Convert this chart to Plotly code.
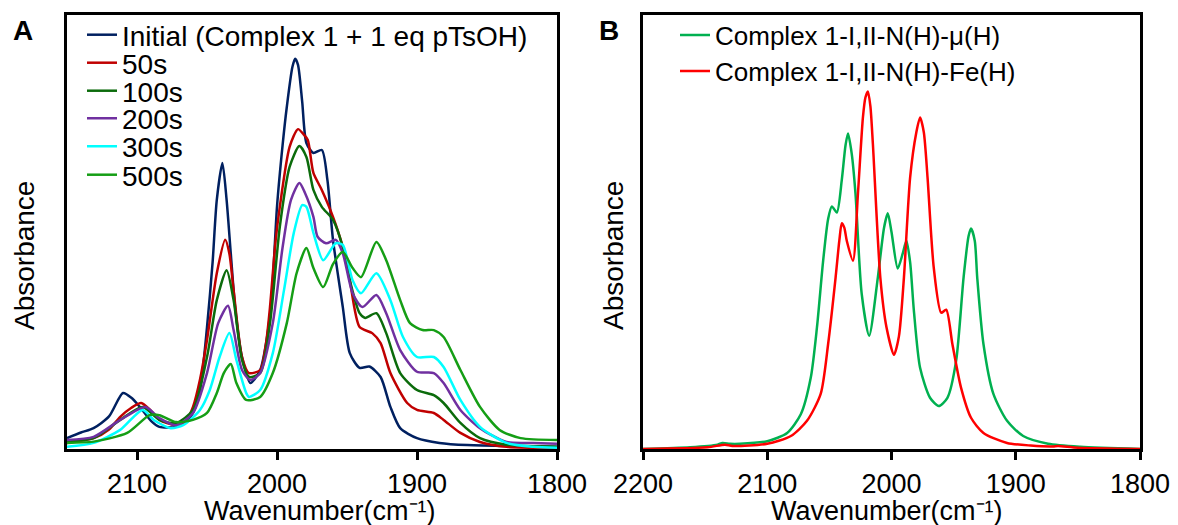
import plotly.graph_objects as go

W, H = 1178, 525

# ---------------- Panel A data (wavenumber, absorbance in arbitrary units) ----------------
wn_initial = [2150, 2140, 2131, 2120, 2110, 2104, 2098, 2090, 2084, 2072, 2065, 2060, 2055, 2050, 2046,
              2043, 2039, 2036, 2033, 2030, 2025, 2019, 2012, 2008, 2004, 2000, 1996, 1993, 1989, 1987,
              1985, 1982, 1979, 1974, 1968, 1964, 1960, 1953, 1948, 1941, 1934, 1926, 1919, 1912, 1900,
              1884, 1864, 1800]
abs_initial = [0.025, 0.038, 0.048, 0.075, 0.129, 0.118, 0.097, 0.065, 0.051, 0.051, 0.062, 0.083, 0.136,
               0.28, 0.43, 0.574, 0.659, 0.574, 0.45, 0.33, 0.212, 0.152, 0.182, 0.24, 0.34, 0.558, 0.70,
               0.788, 0.88, 0.899, 0.885, 0.80, 0.705, 0.682, 0.689, 0.62, 0.482, 0.327, 0.221, 0.187,
               0.19, 0.166, 0.097, 0.048, 0.025, 0.014, 0.009, 0.005]

wn_50s = [2150, 2131, 2120, 2112, 2104, 2097, 2090, 2084, 2072, 2065, 2060, 2055, 2050, 2043, 2037, 2034,
          2031, 2025, 2020, 2012, 2008, 2005, 2001, 1998, 1991, 1985, 1981, 1978, 1974, 1968, 1960, 1953,
          1948, 1941, 1932, 1926, 1919, 1907, 1900, 1888, 1881, 1869, 1855, 1836, 1800]
abs_50s = [0.014, 0.025, 0.045, 0.074, 0.095, 0.106, 0.088, 0.067, 0.055, 0.065, 0.097, 0.16, 0.251, 0.405,
           0.482, 0.45, 0.366, 0.212, 0.175, 0.182, 0.24, 0.327, 0.48, 0.558, 0.696, 0.737, 0.725, 0.712,
           0.636, 0.597, 0.535, 0.465, 0.389, 0.281, 0.267, 0.244, 0.175, 0.106, 0.09, 0.083, 0.067, 0.037,
           0.016, 0.005, 0.003]

wn_100s = [2150, 2131, 2112, 2096, 2084, 2072, 2060, 2050, 2043, 2036, 2031, 2025, 2020, 2012, 2005, 1998,
           1991, 1984, 1979, 1974, 1968, 1960, 1953, 1948, 1941, 1937, 1929, 1922, 1912, 1900, 1888, 1881,
           1869, 1855, 1836, 1800]
abs_100s = [0.017, 0.025, 0.067, 0.097, 0.067, 0.06, 0.09, 0.212, 0.343, 0.412, 0.343, 0.205, 0.166, 0.175,
            0.29, 0.512, 0.65, 0.698, 0.673, 0.597, 0.558, 0.528, 0.465, 0.389, 0.313, 0.302, 0.313, 0.267,
            0.175, 0.136, 0.124, 0.106, 0.06, 0.025, 0.01, 0.005]

wn_200s = [2150, 2131, 2112, 2094, 2084, 2072, 2060, 2050, 2042, 2035, 2031, 2025, 2019, 2012, 2003, 1996,
           1990, 1984, 1980, 1974, 1971, 1965, 1958, 1953, 1946, 1939, 1929, 1922, 1912, 1900, 1888, 1881,
           1869, 1855, 1836, 1817, 1800]
abs_200s = [0.021, 0.028, 0.067, 0.097, 0.071, 0.055, 0.083, 0.175, 0.29, 0.33, 0.274, 0.182, 0.159, 0.175,
            0.29, 0.465, 0.574, 0.613, 0.59, 0.535, 0.489, 0.474, 0.482, 0.451, 0.359, 0.327, 0.355, 0.313,
            0.228, 0.178, 0.175, 0.152, 0.09, 0.048, 0.016, 0.014, 0.012]

wn_300s = [2150, 2131, 2112, 2096, 2088, 2076, 2067, 2055, 2048, 2041, 2034, 2029, 2022, 2020, 2012, 2003,
           1995, 1988, 1982, 1979, 1974, 1967, 1958, 1953, 1946, 1940, 1929, 1919, 1910, 1900, 1888, 1881,
           1869, 1855, 1836, 1817, 1800]
abs_300s = [0.005, 0.014, 0.044, 0.09, 0.067, 0.048, 0.055, 0.09, 0.136, 0.212, 0.267, 0.205, 0.129, 0.12,
            0.136, 0.221, 0.366, 0.498, 0.562, 0.558, 0.498, 0.435, 0.474, 0.47, 0.389, 0.359, 0.405, 0.343,
            0.258, 0.212, 0.212, 0.189, 0.113, 0.051, 0.014, 0.005, 0.003]

wn_500s = [2150, 2131, 2107, 2091, 2084, 2072, 2060, 2050, 2043, 2038, 2033, 2029, 2022, 2012, 2003, 1993,
           1986, 1979, 1974, 1967, 1960, 1953, 1946, 1940, 1929, 1922, 1912, 1905, 1896, 1888, 1881, 1869,
           1855, 1841, 1826, 1800]
abs_500s = [0.014, 0.017, 0.037, 0.078, 0.078, 0.062, 0.067, 0.083, 0.129, 0.175, 0.196, 0.152, 0.113, 0.12,
            0.175, 0.29, 0.405, 0.463, 0.417, 0.373, 0.426, 0.454, 0.417, 0.396, 0.477, 0.435, 0.343, 0.29,
            0.274, 0.274, 0.258, 0.182, 0.097, 0.044, 0.025, 0.021]

# ---------------- Panel B data ----------------
wn_mu = [2200, 2162, 2140, 2136, 2130, 2122, 2100, 2084, 2073, 2065, 2060, 2055, 2051, 2048, 2044, 2040,
         2037, 2035, 2032, 2029, 2024, 2018, 2011, 2006, 2003, 2000, 1995, 1991, 1988, 1985, 1982, 1977,
         1969, 1962, 1955, 1948, 1942, 1938, 1936, 1933, 1931, 1926, 1918, 1907, 1894, 1874, 1848, 1800]
abs_mu = [0.0, 0.004, 0.01, 0.014, 0.012, 0.012, 0.018, 0.037, 0.08, 0.164, 0.28, 0.434, 0.53, 0.559, 0.545,
          0.62, 0.70, 0.727, 0.68, 0.589, 0.358, 0.261, 0.395, 0.51, 0.543, 0.50, 0.416, 0.45, 0.48, 0.43,
          0.319, 0.187, 0.118, 0.099, 0.118, 0.203, 0.395, 0.49, 0.508, 0.48, 0.395, 0.242, 0.127, 0.065,
          0.03, 0.012, 0.005, 0.0]

wn_feh = [2200, 2148, 2134, 2128, 2100, 2081, 2068, 2057, 2051, 2045, 2042, 2040, 2038, 2036, 2031, 2027,
          2023, 2021, 2019, 2017, 2015, 2009, 2004, 1998, 1994, 1990, 1985, 1980, 1977, 1974, 1971, 1966,
          1960, 1956, 1951, 1944, 1936, 1926, 1907, 1888, 1870, 1866, 1850, 1800]
abs_feh = [0.0, 0.004, 0.01, 0.007, 0.012, 0.03, 0.065, 0.127, 0.242, 0.395, 0.48, 0.52, 0.51, 0.48, 0.434,
           0.589, 0.764, 0.81, 0.824, 0.79, 0.704, 0.395, 0.28, 0.217, 0.26, 0.395, 0.626, 0.73, 0.764, 0.73,
           0.626, 0.418, 0.314, 0.321, 0.242, 0.141, 0.072, 0.037, 0.014, 0.008, 0.006, 0.007, 0.003, 0.0]

names_a = ["Initial (Complex 1 + 1 eq pTsOH)", "50s", "100s", "200s", "300s", "500s"]
colors_a = ["#002060", "#C00000", "#0B6B0B", "#7030A0", "#00FFFF", "#159E15"]
series_a = [(wn_initial, abs_initial), (wn_50s, abs_50s), (wn_100s, abs_100s),
            (wn_200s, abs_200s), (wn_300s, abs_300s), (wn_500s, abs_500s)]

names_b = ["Complex 1-I,II-N(H)-\u03bc(H)", "Complex 1-I,II-N(H)-Fe(H)"]
colors_b = ["#00B050", "#FF0000"]
series_b = [(wn_mu, abs_mu), (wn_feh, abs_feh)]

ticks_a = [2100, 2000, 1900, 1800]
ticks_b = [2200, 2100, 2000, 1900, 1800]

FONT = "Liberation Sans, Arial, sans-serif"

fig = go.Figure()

legend_layout = {}
rows_a = [35, 63, 91, 118.5, 146.5, 175]   # legend row centres, px from top
rows_b = [35, 71]

for i, ((x, y), name, col) in enumerate(zip(series_a, names_a, colors_a)):
    lg = "legend" if i == 0 else f"legend{i + 1}"
    fig.add_trace(go.Scatter(x=x, y=y, mode="lines", name=name, xaxis="x", yaxis="y",
                             line=dict(color=col, width=2.5, shape="spline", smoothing=0.7),
                             legend=lg))
    legend_layout[lg] = dict(
        x=82 / W, y=1 - rows_a[i] / H, xanchor="left", yanchor="middle",
        bgcolor="rgba(0,0,0,0)", borderwidth=0,
        font=dict(family=FONT, size=28, color="black"))

for j, ((x, y), name, col) in enumerate(zip(series_b, names_b, colors_b)):
    lg = f"legend{7 + j}"
    fig.add_trace(go.Scatter(x=x, y=y, mode="lines", name=name, xaxis="x2", yaxis="y2",
                             line=dict(color=col, width=2.5, shape="spline", smoothing=0.7),
                             legend=lg))
    legend_layout[lg] = dict(
        x=675 / W, y=1 - rows_b[j] / H, xanchor="left", yanchor="middle",
        bgcolor="rgba(0,0,0,0)", borderwidth=0,
        font=dict(family=FONT, size=26, color="black"))

ydom = [1 - 449 / H, 1 - 15 / H]
axis_common = dict(showline=True, linecolor="black", linewidth=2.5, mirror=True,
                   showgrid=False, zeroline=False, automargin=False)
xtick_common = dict(ticks="outside", ticklen=8, tickwidth=2.5, tickcolor="black",
                    tickfont=dict(family=FONT, size=27, color="black"), ticklabelstandoff=1)

fig.update_layout(
    template="none",
    width=W, height=H,
    margin=dict(l=0, r=0, t=0, b=0, autoexpand=False),
    paper_bgcolor="white", plot_bgcolor="white",
    font=dict(family=FONT, size=28, color="black"),
    showlegend=True,
    xaxis=dict(domain=[67 / W, 557 / W], range=[2150, 1800], tickvals=ticks_a,
               anchor="y", **xtick_common, **axis_common),
    yaxis=dict(domain=ydom, range=[0, 1], showticklabels=False, ticks="", anchor="x", **axis_common),
    xaxis2=dict(domain=[643 / W, 1140 / W], range=[2200, 1800],
                tickvals=ticks_b, anchor="y2", **xtick_common, **axis_common),
    yaxis2=dict(domain=ydom, range=[0, 1], showticklabels=False, ticks="", anchor="x2", **axis_common),
    **legend_layout,
)

annotations = [
    dict(text="<b>A</b>", x=23 / W, y=1 - 31 / H, size=28),
    dict(text="<b>B</b>", x=609 / W, y=1 - 31 / H, size=28),
    dict(text="Absorbance", x=24 / W, y=1 - 256 / H, textangle=-90, size=28),
    dict(text="Absorbance", x=613 / W, y=1 - 256 / H, textangle=-90, size=28),
    dict(text="Wavenumber(cm\u207b\u00b9)", x=320 / W, y=1 - 511 / H, size=27),
    dict(text="Wavenumber(cm\u207b\u00b9)", x=887 / W, y=1 - 511 / H, size=27),
]
for a in annotations:
    size = a.pop("size")
    a.update(xref="paper", yref="paper", xanchor="center", yanchor="middle", showarrow=False,
             font=dict(family=FONT, size=size, color="black"))
fig.update_layout(annotations=annotations)

fig.write_html("out.html", config={"displayModeBar": False},
               post_script="document.body.style.margin='0';document.body.style.overflow='hidden';")
